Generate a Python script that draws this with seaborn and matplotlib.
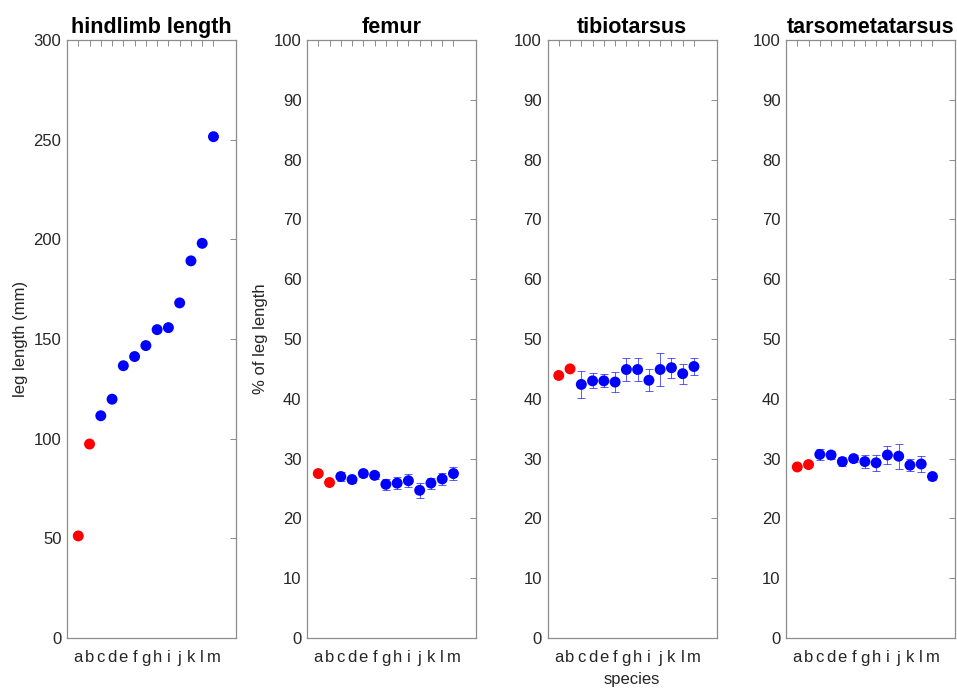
import numpy as np
import pandas as pd
import matplotlib
matplotlib.use("Agg")
import matplotlib.pyplot as plt
import seaborn as sns

species = ["a", "b", "c", "d", "e", "f", "g", "h", "i", "j", "k", "l", "m"]
group = ["red", "red"] + ["blue"] * 11

hindlimb = [51.2, 97.3, 111.5, 119.8, 136.6, 141.2, 146.7, 154.7, 155.7, 168.1, 189.2, 198.0, 251.5]

femur = [27.5, 26.0, 27.0, 26.5, 27.5, 27.2, 25.7, 25.9, 26.3, 24.7, 25.9, 26.6, 27.5]
femur_err = [0, 0, 0.7, 0.5, 0.6, 0.6, 0.95, 1.0, 1.1, 1.3, 0.9, 1.0, 1.1]

tibio = [43.9, 45.0, 42.4, 43.0, 43.0, 42.8, 44.9, 44.9, 43.1, 44.9, 45.2, 44.2, 45.4]
tibio_err = [0, 0, 2.2, 1.25, 1.1, 1.6, 1.9, 1.9, 1.8, 2.8, 1.7, 1.7, 1.5]

tarso = [28.6, 29.0, 30.7, 30.6, 29.5, 30.0, 29.5, 29.3, 30.6, 30.4, 28.9, 29.1, 27.0]
tarso_err = [0, 0, 0.95, 0.6, 0.7, 0.6, 1.1, 1.3, 1.5, 2.1, 1.0, 1.4, 0.5]

titles = ["hindlimb length", "femur", "tibiotarsus", "tarsometatarsus"]

sns.set_theme(style="white")
plt.rcParams["font.family"] = ["Liberation Sans", "DejaVu Sans"]

fig = plt.figure(figsize=(9.57, 6.88), dpi=100)
lefts = [67 / 957, 307 / 957, 547.5 / 957, 786 / 957]
w = 169 / 957
b = 1 - 638 / 688
h = 598 / 688

xpos = np.arange(1, len(species) + 1)
panels = [(hindlimb, None), (femur, femur_err), (tibio, tibio_err), (tarso, tarso_err)]
axcol = "#8c8c8c"
txtcol = "#262626"

for k, (vals, errs) in enumerate(panels):
    ax = fig.add_axes([lefts[k], b, w, h])
    df = pd.DataFrame({"x": xpos, "y": vals, "g": group})
    if errs is not None:
        e = np.array(errs)
        mask = e > 0
        ax.errorbar(xpos[mask], np.array(vals)[mask], yerr=e[mask], fmt="none",
                    ecolor="#0000ff", elinewidth=0.6, capsize=3, capthick=0.6,
                    alpha=0.75, zorder=2)
    sns.scatterplot(data=df, x="x", y="y", hue="g",
                    palette={"red": "#ff0000", "blue": "#0000ff"},
                    s=62, edgecolor="none", legend=False, ax=ax, zorder=3)
    ax.set_xlim(0, 15)
    if k == 0:
        ax.set_ylim(0, 300)
        ax.set_yticks(np.arange(0, 301, 50))
        ax.set_ylabel("leg length (mm)", fontsize=12, color=txtcol, labelpad=4)
    else:
        ax.set_ylim(0, 100)
        ax.set_yticks(np.arange(0, 101, 10))
        if k == 1:
            ax.set_ylabel("% of leg length", fontsize=12, color=txtcol, labelpad=4)
        else:
            ax.set_ylabel("")
    ax.set_xticks(xpos)
    ax.set_xticklabels(species)
    ax.set_xlabel("species" if k == 2 else "", fontsize=12, color=txtcol, labelpad=5)
    ax.set_title(titles[k], fontsize=15.5, fontweight="bold", color="black", pad=5)
    ax.tick_params(axis="both", which="both", direction="in", top=True, right=True,
                   length=4, width=0.7, color=axcol, labelsize=12, labelcolor=txtcol,
                   pad=4)
    ax.tick_params(axis="x", pad=9)
    for sp in ax.spines.values():
        sp.set_visible(True)
        sp.set_color(axcol)
        sp.set_linewidth(0.9)
    ax.grid(False)

fig.savefig("out.png", dpi=100, facecolor="white")
